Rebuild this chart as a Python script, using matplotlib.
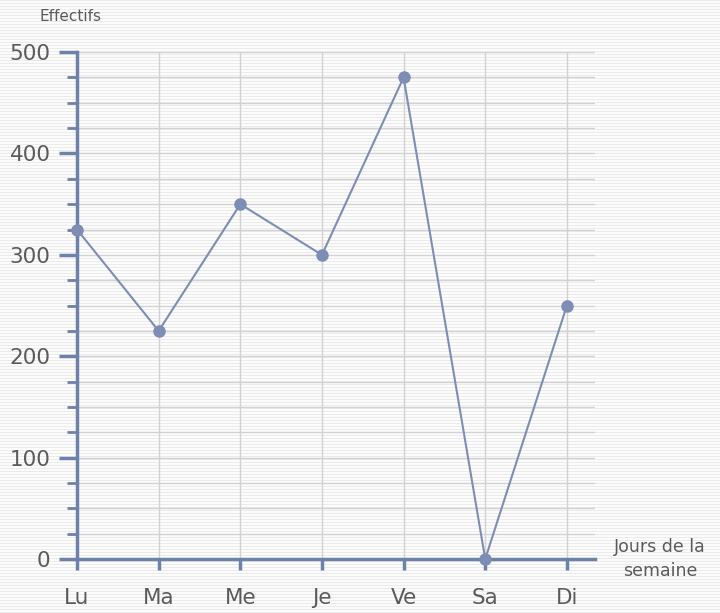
import numpy as np
import matplotlib.pyplot as plt
from matplotlib.ticker import MultipleLocator

plt.switch_backend("Agg")

days = ["Lu", "Ma", "Me", "Je", "Ve", "Sa", "Di"]
effectifs = [325, 225, 350, 300, 475, 0, 250]

axis_color = "#6d82ab"
line_color = "#7d8db5"
text_color = "#5a5a5a"
grid_color = "#d2d2d2"

fig = plt.figure(figsize=(7.2, 6.13), dpi=100)

# striped background, as in the reference
bg = fig.add_axes([0, 0, 1, 1], zorder=-5)
rows = np.array([0.92 if (i % 3 == 0) else 0.985 for i in range(613)])
stripes = np.tile(rows[:, None], (1, 720))
bg.imshow(stripes, cmap="gray", vmin=0, vmax=1, aspect="auto",
          interpolation="nearest")
bg.set_axis_off()

ax = fig.add_axes([0.107, 0.088, 0.72, 0.827], zorder=1)
ax.patch.set_alpha(0)

x = np.arange(len(days))
ax.plot(x, effectifs, color=line_color, lw=1.5, marker="o", ms=8,
        markerfacecolor=line_color, markeredgecolor=line_color, zorder=4,
        clip_on=False)

ax.set_xlim(0, 6.35)
ax.set_ylim(0, 500)
ax.set_xticks(x)
ax.set_xticklabels(days)
ax.yaxis.set_major_locator(MultipleLocator(100))
ax.yaxis.set_minor_locator(MultipleLocator(25))

ax.grid(True, which="both", axis="y", color=grid_color, lw=1.0)
ax.grid(True, which="major", axis="x", color=grid_color, lw=1.0)
ax.set_axisbelow(True)

for side in ("top", "right"):
    ax.spines[side].set_visible(False)
for side in ("left", "bottom"):
    ax.spines[side].set_color(axis_color)
    ax.spines[side].set_linewidth(2.5)

ax.tick_params(axis="y", which="major", length=13, width=2.5, color=axis_color,
               labelsize=15.5, labelcolor=text_color, pad=6)
ax.tick_params(axis="y", which="minor", length=7, width=2, color=axis_color)
ax.tick_params(axis="x", which="major", length=8, width=2.5, color=axis_color,
               labelsize=15.5, labelcolor=text_color, pad=13)

ax.text(-0.013, 1.055, "Effectifs", transform=ax.transAxes, ha="center",
        va="bottom", fontsize=11, color=text_color)
ax.text(1.125, 0.0, "Jours de la\nsemaine", transform=ax.transAxes,
        ha="center", va="center", fontsize=12.5, color=text_color,
        linespacing=1.45)

fig.savefig("out.png", dpi=100)
